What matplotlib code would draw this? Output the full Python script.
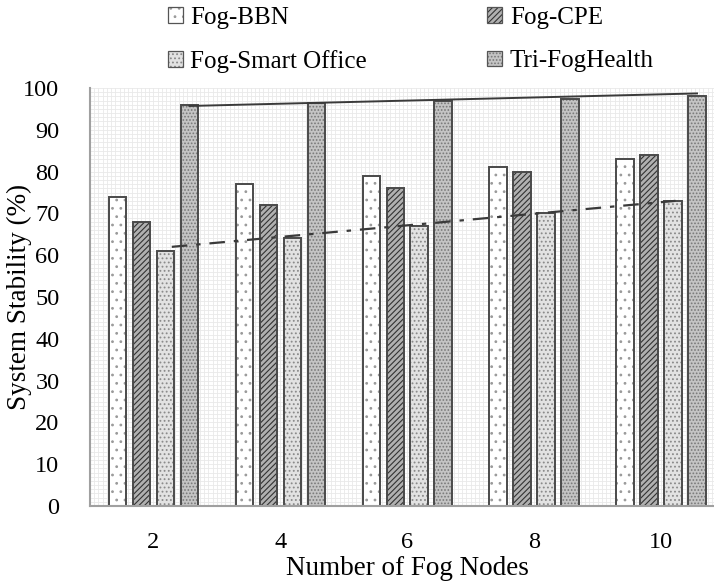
import numpy as np
import matplotlib
matplotlib.use("Agg")
import matplotlib.pyplot as plt
from matplotlib.patches import Patch
from matplotlib.legend_handler import HandlerTuple
from matplotlib.ticker import MultipleLocator

plt.rcParams['font.family'] = ['Liberation Serif', 'DejaVu Serif']
plt.rcParams['hatch.linewidth'] = 0.8

# data
nodes = ['2', '4', '6', '8', '10']
fog_bbn = [74, 77, 79, 81, 83]
fog_cpe = [68, 72, 76, 80, 84]
fog_smart_office = [61, 64, 67, 70, 73]
tri_foghealth = [96, 96.4, 97, 97.4, 98]
# trendline end values (first group, last group)
tri_trend = [95.7, 98.7]
office_trend = [62.0, 73.0]

series = [
    ('Fog-BBN', fog_bbn, 'white', '#9a9a9a', '..'),
    ('Fog-CPE', fog_cpe, '#b0b0b0', '#333333', '//////'),
    ('Fog-Smart Office', fog_smart_office, '#e2e2e2', '#8a8a8a', '....'),
    ('Tri-FogHealth', tri_foghealth, '#c4c4c4', '#787878', '.....'),
]

fig = plt.figure(figsize=(7.14, 5.84), dpi=100)
ax = fig.add_axes([90 / 714, 78 / 584, 634.5 / 714, 418 / 584])

x = np.arange(len(nodes))
pitch = 0.189
width = 0.138
handles = []
for i, (name, vals, face, hcol, hatch) in enumerate(series):
    pos = x + (i - 1.5) * pitch
    ax.bar(pos, vals, width, color=face, edgecolor=hcol, hatch=hatch, linewidth=0, zorder=2)
    ax.bar(pos, vals, width, fill=False, edgecolor='#4a4a4a', linewidth=1.4, zorder=3)
    handles.append((Patch(facecolor=face, edgecolor=hcol, hatch=hatch, linewidth=0),
                    Patch(fill=False, edgecolor='#555555', linewidth=0.9)))

# trendlines
tri_x = [x[0] + 1.5 * pitch, x[-1] + 1.5 * pitch]
so_x = [x[0] + 0.5 * pitch + 0.05, x[-1] + 0.5 * pitch + 0.02]
ax.plot(tri_x, tri_trend, color='#3a3a3a', lw=1.4, zorder=4)
ax.plot(so_x, office_trend, color='#3a3a3a', lw=1.6, dashes=(7, 4, 2, 4), zorder=4)

ax.set_xlim(-0.5, len(nodes) - 0.5)
ax.set_ylim(0, 100)
ax.set_xticks(x)
ax.set_xticklabels(nodes)
ax.set_yticks(np.arange(0, 101, 10))
ax.yaxis.set_minor_locator(MultipleLocator(1))
ax.xaxis.set_minor_locator(MultipleLocator(1 / 30))
ax.grid(which='both', color='#e9e9e9', lw=0.6, zorder=0)
ax.set_axisbelow(True)
ax.tick_params(which='both', length=0, labelsize=17.5)
ax.tick_params(axis='x', pad=19)
ax.tick_params(axis='y', pad=22)

for s in ['top', 'right']:
    ax.spines[s].set_visible(False)
for s in ['left', 'bottom']:
    ax.spines[s].set_color('#a0a0a0')
    ax.spines[s].set_linewidth(1.5)
    ax.spines[s].set_zorder(5)

ax.set_xlabel('Number of Fog Nodes', fontsize=19.5, labelpad=2)
ax.set_ylabel('System Stability (%)', fontsize=19.5)
ax.yaxis.set_label_coords(-0.092, 0.5)

order = [0, 2, 1, 3]
fig.legend([handles[k] for k in order], [series[k][0] for k in order],
           handler_map={tuple: HandlerTuple(ndivide=1, pad=0)},
           loc='upper left', bbox_to_anchor=(168 / 714, 1 - 7 / 584),
           ncol=2, frameon=False, fontsize=18, handlelength=0.6, handleheight=0.6,
           handletextpad=0.3, columnspacing=4.8, labelspacing=0.85, borderaxespad=0,
           borderpad=0)

fig.savefig('out.png', dpi=100)
